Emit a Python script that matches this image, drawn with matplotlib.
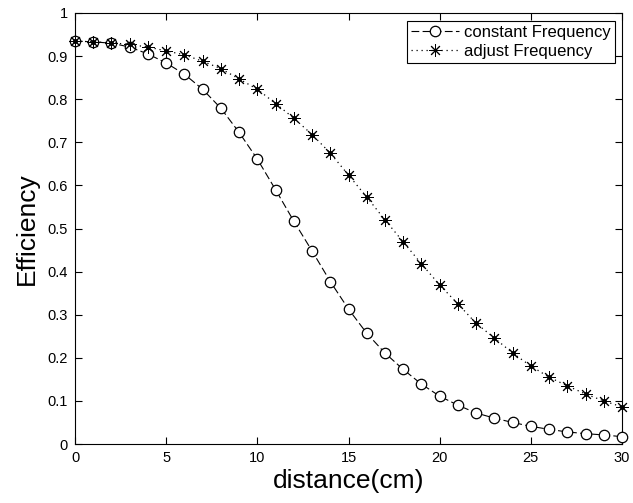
import matplotlib
matplotlib.use("Agg")
import matplotlib.pyplot as plt
import numpy as np

plt.rcParams['font.family'] = ['Liberation Sans', 'DejaVu Sans']

distance = list(range(0, 31))
constant_freq = [0.935, 0.933, 0.930, 0.921, 0.905, 0.884, 0.858, 0.823, 0.779, 0.723,
                 0.661, 0.590, 0.517, 0.448, 0.377, 0.313, 0.257, 0.211, 0.173, 0.139,
                 0.111, 0.090, 0.072, 0.060, 0.050, 0.041, 0.034, 0.028, 0.024, 0.021,
                 0.017]
adjust_freq = [0.935, 0.933, 0.931, 0.927, 0.921, 0.912, 0.903, 0.888, 0.871, 0.847,
               0.823, 0.790, 0.756, 0.718, 0.675, 0.624, 0.573, 0.520, 0.469, 0.418,
               0.369, 0.325, 0.280, 0.246, 0.211, 0.181, 0.155, 0.135, 0.116, 0.100,
               0.086]
xticks = [0, 5, 10, 15, 20, 25, 30]
yticks = [0, 0.1, 0.2, 0.3, 0.4, 0.5, 0.6, 0.7, 0.8, 0.9, 1]
ytick_labels = ['0', '0.1', '0.2', '0.3', '0.4', '0.5', '0.6', '0.7', '0.8', '0.9', '1']

fig = plt.figure(figsize=(6.33, 5.03), dpi=100)
ax = fig.add_axes([75/633, 1-444/503, (622-75)/633, (444-13)/503])

ax.plot(distance, constant_freq, linestyle=(0, (7, 3)), color='black', linewidth=0.8,
        marker='o', markersize=7.5, markerfacecolor='white', markeredgecolor='black',
        markeredgewidth=0.9, label='constant Frequency', clip_on=False, zorder=3)
ax.plot(distance, adjust_freq, linestyle=(0, (1, 3)), color='black', linewidth=0.9,
        marker=(8, 2, 0), markersize=9, markeredgecolor='black', markeredgewidth=0.7,
        label='adjust Frequency', clip_on=False, zorder=3)
ax.plot(distance, adjust_freq, linestyle='none', marker='o', markersize=2.6,
        color='black', clip_on=False, zorder=4)

ax.set_xlim(0, 30)
ax.set_ylim(0, 1)
ax.set_xticks(xticks)
ax.set_xticklabels([str(t) for t in xticks])
ax.set_yticks(yticks)
ax.set_yticklabels(ytick_labels)
ax.tick_params(direction='in', top=True, right=True, length=5, width=0.8,
               labelsize=10.5, colors='black', pad=5)
for s in ax.spines.values():
    s.set_linewidth(0.8)

ax.set_xlabel('distance(cm)', fontsize=19, labelpad=3)
ax.set_ylabel('Efficiency', fontsize=19, labelpad=6)

leg = ax.legend(loc='upper right', fontsize=12, frameon=True, fancybox=False,
                edgecolor='black', framealpha=1, handlelength=2.9,
                borderpad=0.25, labelspacing=0.25, borderaxespad=0.45, handletextpad=0.25)
leg.get_frame().set_linewidth(0.8)

fig.savefig('out.png', dpi=100)
